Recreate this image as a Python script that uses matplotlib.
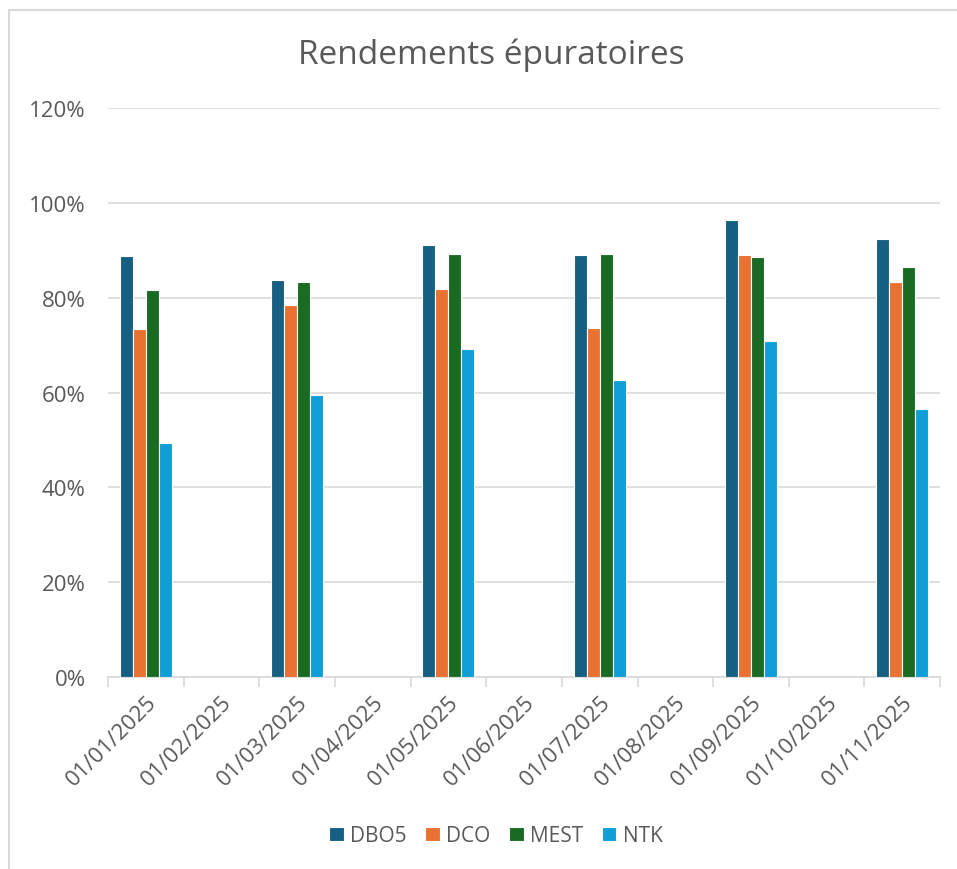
import numpy as np
import matplotlib.pyplot as plt
from matplotlib.patches import Rectangle
from matplotlib.ticker import PercentFormatter, FixedLocator

# Categories (months) and yields per parameter (nan = no measurement)
dates = ['01/01/2025', '01/02/2025', '01/03/2025', '01/04/2025', '01/05/2025',
         '01/06/2025', '01/07/2025', '01/08/2025', '01/09/2025', '01/10/2025',
         '01/11/2025']
nan = np.nan
dbo5 = [0.888, nan, 0.838, nan, 0.911, nan, 0.890, nan, 0.964, nan, 0.924]
dco = [0.734, nan, 0.785, nan, 0.819, nan, 0.736, nan, 0.890, nan, 0.833]
mest = [0.816, nan, 0.833, nan, 0.892, nan, 0.892, nan, 0.886, nan, 0.865]
ntk = [0.494, nan, 0.595, nan, 0.692, nan, 0.627, nan, 0.709, nan, 0.565]

series = ['DBO5', 'DCO', 'MEST', 'NTK']
colors = ['#156082', '#E97132', '#196B24', '#0F9ED5']
text_color = '#595959'

plt.rcParams['font.family'] = ['Open Sans', 'DejaVu Sans']

fig = plt.figure(figsize=(9.57, 8.70), dpi=100)
ax = fig.add_axes([0.1129, 0.2207, 0.8694, 0.654])

# chart frame (only left and top edges visible in the crop)
fig.patches.append(Rectangle((9 / 957, -0.05), 1.1, 0.05 + 1 - 11 / 870,
                             transform=fig.transFigure, fill=False,
                             edgecolor='#D9D9D9', linewidth=1.5))

x = np.arange(len(dates))
width = 0.172
for i, (name, vals, c) in enumerate(zip(series, [dbo5, dco, mest, ntk], colors)):
    ax.bar(x + (i - 1.5) * width, vals, width, color=c, label=name,
           edgecolor='white', linewidth=0.8, zorder=3)

ax.set_xlim(-0.5, len(dates) - 0.5)
ax.set_ylim(0, 1.2)
ax.yaxis.set_major_locator(FixedLocator(np.arange(0, 1.21, 0.2)))
ax.yaxis.set_major_formatter(PercentFormatter(1.0, decimals=0))
ax.grid(axis='y', color='#D9D9D9', linewidth=1.2, zorder=0)

ax.set_xticks(x)
ax.set_xticklabels(dates, rotation=45, ha='right', rotation_mode='anchor',
                   fontsize=16, color=text_color)
ax.set_xticks(np.arange(-0.5, len(dates), 1), minor=True)
ax.tick_params(axis='x', which='major', length=0, pad=10)
ax.tick_params(axis='x', which='minor', length=7, color='#D9D9D9', width=1.2)
ax.tick_params(axis='y', length=0, labelsize=16, labelcolor=text_color, pad=16)

for s in ['top', 'right', 'left']:
    ax.spines[s].set_visible(False)
ax.spines['bottom'].set_color('#D9D9D9')
ax.spines['bottom'].set_linewidth(1.2)

fig.text(0.513, 0.937, 'Rendements épuratoires', ha='center', va='center',
         fontsize=24, color=text_color)

fig.legend(loc='center', bbox_to_anchor=(0.518, 0.038), ncol=4, frameon=False,
           fontsize=15, labelcolor=text_color, handlelength=0.7, handleheight=0.7,
           handletextpad=0.3, columnspacing=0.9)

fig.savefig('out.png', dpi=100, facecolor='white')
